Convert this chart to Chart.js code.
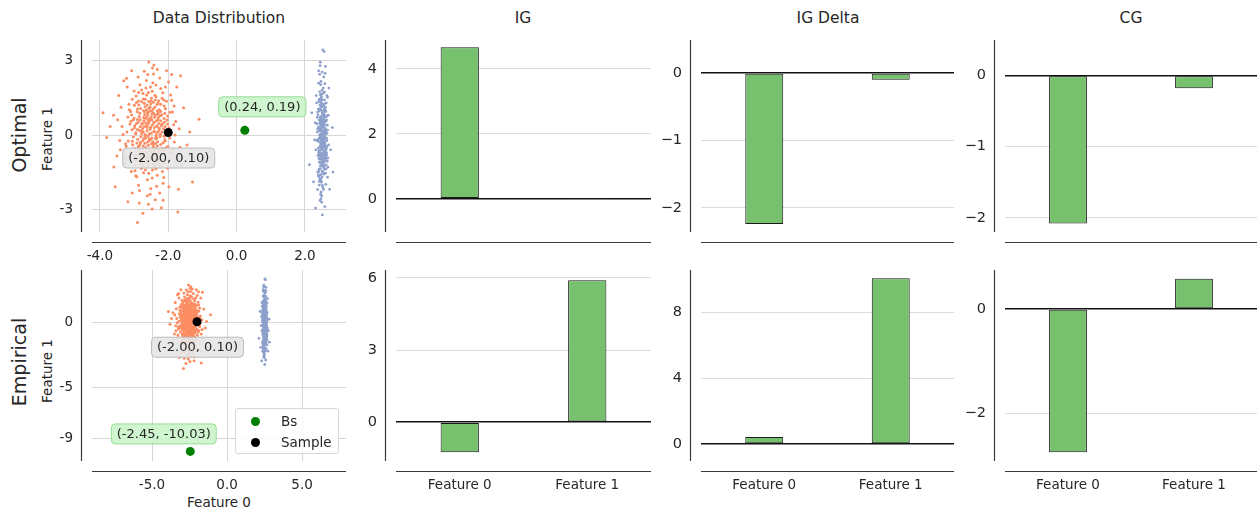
<!DOCTYPE html>
<html><head><meta charset="utf-8">
<script src="https://cdn.jsdelivr.net/npm/chart.js@4.4.1/dist/chart.umd.min.js"></script>
<style>
html,body{margin:0;padding:0;background:#fff;}
#wrap{position:relative;width:1257px;height:510px;overflow:hidden;font-family:"DejaVu Sans",sans-serif;color:#262626;}
canvas{position:absolute;}
.t{position:absolute;white-space:nowrap;transform:translate(-50%,-50%);}
.r{transform:translate(-50%,-50%) rotate(-90deg);}
#legend{position:absolute;left:235px;top:408px;width:102px;height:44px;border:1px solid #d8d8d8;border-radius:3px;background:rgba(255,255,255,0.85);font-size:13.5px;}
#legend .e{position:absolute;left:0;height:20px;line-height:20px;}
#legend .d{position:absolute;left:15px;top:6px;width:9px;height:9px;border-radius:50%;}
#legend .l{position:absolute;left:45px;top:0;}
</style></head>
<body><div id="wrap">
<div class="t" style="left:219px;top:18px;font-size:15.5px;">Data Distribution</div>
<div class="t" style="left:523px;top:18px;font-size:15.5px;">IG</div>
<div class="t" style="left:828px;top:18px;font-size:15.5px;">IG Delta</div>
<div class="t" style="left:1131px;top:18px;font-size:15.5px;">CG</div>
<div class="t r" style="left:19px;top:135px;font-size:19px;">Optimal</div>
<div class="t r" style="left:19px;top:362px;font-size:19px;">Empirical</div>
<div class="t r" style="left:47px;top:139px;font-size:13.5px;">Feature 1</div>
<div class="t r" style="left:47px;top:371px;font-size:13.5px;">Feature 1</div>
<div class="t" style="left:219px;top:502px;font-size:13.5px;">Feature 0</div>
<div id="legend">
 <div class="e" style="top:2px;width:100px;"><span class="d" style="background:#008000"></span><span class="l">Bs</span></div>
 <div class="e" style="top:23px;width:100px;"><span class="d" style="background:#000"></span><span class="l">Sample</span></div>
</div>
</div>
<script>
// ---------------- DATA ----------------
const categories = ['Feature 0', 'Feature 1'];
const igOptimal = [4.67, 0.01];
const igDeltaOptimal = [-2.24, -0.10];
const cgOptimal = [-2.08, -0.18];
const igEmpirical = [-1.25, 5.90];
const igDeltaEmpirical = [0.43, 10.10];
const cgEmpirical = [-2.75, 0.58];

const samplePoint = [-2.00, 0.10];
const bsOptimal = [0.24, 0.19];
const bsEmpirical = [-2.45, -10.03];

const scatterTopXTicks = [-4, -2, 0, 2];
const scatterTopYTicks = [-3, 0, 3];
const scatterBotXTicks = [-5, 0, 5];
const scatterBotYTicks = [-9, -5, 0];
const igOptTicks = [0, 2, 4];
const igDeltaOptTicks = [-2, -1, 0];
const cgOptTicks = [-2, -1, 0];
const igEmpTicks = [0, 3, 6];
const igDeltaEmpTicks = [0, 4, 8];
const cgEmpTicks = [-2, 0];

const classA = [ // orange cluster
[-2.52,0.31],[-2.31,0.84],[-2.74,-0.22],[-2.12,1.18],[-2.93,0.47],[-2.41,-0.91],[-2.63,1.62],[-2.22,-0.38],[-3.02,-0.08],[-2.03,0.61],
[-2.81,1.07],[-2.46,-1.42],[-2.36,2.03],[-2.67,0.02],[-1.92,-0.71],[-3.18,0.73],[-2.56,-0.63],[-2.27,0.19],[-2.77,-1.04],[-2.16,1.71],
[-2.58,0.92],[-2.88,-0.48],[-2.33,-0.12],[-2.71,0.58],[-2.44,1.33],[-2.09,-0.24],[-2.99,1.21],[-2.61,-1.81],[-2.19,0.44],[-2.49,0.07],
[-2.84,0.18],[-2.38,-0.55],[-2.64,2.21],[-2.26,1.02],[-3.11,-0.71],[-2.54,0.66],[-1.98,0.28],[-2.79,-1.36],[-2.42,0.49],[-2.68,-0.33],
[-2.13,-1.12],[-2.91,0.94],[-2.47,1.77],[-2.59,-0.04],[-2.34,0.37],[-3.06,0.21],[-2.21,-0.82],[-2.73,1.46],[-2.51,-2.17],[-2.29,0.71],
[-2.86,-0.61],[-2.39,1.12],[-2.62,0.39],[-1.88,0.93],[-2.97,-1.22],[-2.45,-0.27],[-2.18,1.49],[-2.69,0.83],[-2.55,-1.05],[-2.24,-0.06],
[-3.21,0.12],[-2.43,2.47],[-2.76,-0.86],[-2.07,0.14],[-2.57,1.08],[-2.32,-1.63],[-2.82,0.33],[-2.48,0.96],[-2.66,-0.51],[-2.11,0.53],
[-2.94,1.58],[-2.37,-0.34],[-2.61,-2.46],[-2.28,1.39],[-3.04,-0.39],[-2.53,0.23],[-2.01,-0.47],[-2.72,0.71],[-2.44,-0.79],[-2.65,1.91],
[-2.19,0.82],[-2.89,-0.17],[-2.51,1.26],[-2.35,0.58],[-3.27,-0.93],[-2.60,-1.28],[-2.14,-0.63],[-2.78,0.06],[-2.47,0.41],[-2.30,-0.98],
[-2.83,2.04],[-2.56,-0.15],[-2.25,2.31],[-2.70,1.29],[-1.95,-0.12],[-3.09,0.56],[-2.40,0.13],[-2.63,-0.72],[-2.20,0.38],[-2.92,-1.69],
[-2.50,0.74],[-2.34,-2.08],[-2.75,0.26],[-2.08,1.06],[-2.58,-0.41],[-2.87,1.38],[-2.43,-1.19],[-2.23,0.03],[-3.14,1.02],[-2.66,0.49],
[-2.39,1.61],[-2.81,-0.29],[-2.15,-0.31],[-2.54,-0.88],[-2.98,0.38],[-2.29,0.89],[-2.62,0.17],[-1.84,0.42],[-2.72,-1.53],[-2.46,2.72],
[-3.35,0.35],[-2.52,-0.18],[-2.27,-0.74],[-2.68,1.15],[-2.41,0.29],[-2.90,-0.82],[-2.05,1.37],[-2.59,0.61],[-2.36,-1.37],[-2.77,0.44],
[-2.17,-1.48],[-2.95,0.09],[-2.49,1.49],[-2.64,-1.12],[-2.32,0.97],[-3.00,1.78],[-2.55,0.05],[-2.12,0.67],[-2.80,-0.07],[-2.44,-0.46],
[-2.70,2.58],[-2.26,0.27],[-2.58,-2.81],[-2.38,0.81],[-3.17,-0.24],[-1.97,-0.95],[-2.83,0.88],[-2.50,-0.69],[-2.22,1.88],[-2.62,0.30],
[-2.96,-1.01],[-2.42,0.52],[-2.10,-0.19],[-2.74,1.68],[-2.47,-1.74],[-2.31,0.11],[-3.07,0.81],[-2.57,1.36],[-2.18,-0.54],[-2.85,-0.44],
[-2.53,0.98],[-2.36,-0.08],[-2.67,-1.41],[-2.02,0.77],[-2.90,0.63],[-2.45,2.12],[-2.24,-1.27],[-2.78,-0.58],[-2.60,0.81],[-3.23,-0.46],
[-2.33,1.24],[-2.71,-0.14],[-2.14,0.25],[-2.49,-0.35],[-2.87,-2.04],[-2.56,0.54],[-1.90,1.41],[-2.64,1.01],[-2.40,-0.99],[-2.99,0.28],
[-2.73,0.12],[-2.48,0.62],[-2.35,0.01],[-2.61,0.91],[-2.82,-0.36],[-2.28,0.47],[-2.55,-0.22],[-2.67,0.68],[-2.43,0.88],[-2.31,-0.27],
[-3.12,0.45],[-1.95,0.92],[-3.25,-0.35],[-1.82,-0.28],[-3.05,1.45],[-2.02,-1.35],[-3.32,0.02],[-1.78,0.55],[-2.95,-1.65],[-2.08,1.95],
[-3.15,1.25],[-1.87,-0.58],[-3.42,-0.22],[-2.05,0.08],[-2.88,2.35],[-1.93,1.62],[-3.28,-1.15],[-2.15,-1.95],[-3.00,0.68],[-1.72,-0.85],
[-2.78,1.82],[-2.25,-2.35],[-3.20,1.95],[-2.38,-2.62],[-2.60,2.45],[-1.99,2.15],[-2.84,-2.25],[-3.38,1.12],[-1.83,1.18],[-2.53,-2.40],
[-3.08,-1.48],[-2.13,-1.72],[-2.44,1.05],[-2.70,0.95],[-2.36,1.55],[-2.58,1.72],[-2.90,0.22],[-2.22,0.58],[-2.66,-0.12],[-2.46,-0.56],
[-2.76,0.48],[-2.30,1.29],[-2.52,1.95],[-2.64,-0.92],[-2.40,0.72],[-2.86,1.22],[-2.20,-0.66],[-2.98,-0.55],[-2.09,0.35],[-2.74,-1.25],
[-2.95,0.05],[-2.85,0.75],[-2.72,-0.68],[-2.62,1.22],[-2.52,-0.95],[-2.42,0.15],[-2.32,-0.45],[-2.22,0.95],[-2.12,-0.05],[-2.02,0.45],
[-3.05,-0.25],[-2.90,1.05],[-2.80,-1.15],[-2.70,0.35],[-2.60,-0.28],[-2.50,1.38],[-2.40,-1.30],[-2.30,0.62],[-2.20,-1.05],[-2.10,0.88],
[-3.10,0.95],[-2.98,-0.85],[-2.88,0.52],[-2.78,1.35],[-2.68,-0.02],[-2.58,0.48],[-2.48,-0.12],[-2.38,1.42],[-2.28,-0.62],[-2.18,0.12],
[-2.92,-0.32],[-2.82,0.62],[-2.72,0.98],[-2.62,-1.02],[-2.52,0.62],[-2.42,-0.65],[-2.32,0.35],[-2.22,1.25],[-2.12,-0.78],[-2.00,0.02],
[-3.02,0.62],[-2.93,1.32],[-2.83,-0.95],[-2.73,-0.45],[-2.63,0.72],[-2.53,1.12],[-2.43,-0.35],[-2.33,-0.88],[-2.23,0.78],[-2.13,1.42],
[-2.97,-1.45],[-2.87,1.72],[-2.77,0.15],[-2.67,1.45],[-2.57,-1.55],[-2.47,0.85],[-2.37,-0.15],[-2.27,-1.18],[-2.17,0.45],[-2.07,-0.52],
[-3.48,0.62],[-1.68,0.25],[-3.50,-0.85],[-1.66,-0.50],[-2.32,2.65],[-2.85,-2.75],[-1.98,-2.10],[-3.22,2.30],[-1.90,2.45],[-2.47,-3.00],
[-3.91,0.90],[-3.80,-0.10],[-3.59,-1.30],[-3.70,0.35],[-2.57,2.96],[-2.42,2.84],[-3.07,2.60],[-1.64,2.40],[-2.90,-3.55],[-2.74,-3.17],
[-3.18,-2.70],[-1.72,-3.12],[-2.15,-2.64],[-1.10,0.64],[-1.37,0.12],[-1.29,-1.90],[-1.55,1.10],[-1.45,-0.40],[-3.45,1.60],[-3.55,-2.10],
[-1.70,-2.20],[-1.75,1.95],[-3.30,2.20],[-1.60,-1.20],[-3.40,-0.60],[-2.20,-2.95],[-3.05,-2.35],[-1.80,0.00],[-3.60,0.80],[-2.05,2.60]
];
const classB = [ // blue cluster
[2.52,0.31],[2.44,-0.84],[2.58,0.22],[2.47,1.18],[2.61,-0.47],[2.50,0.91],[2.39,-1.62],[2.55,0.38],[2.46,-0.08],[2.63,0.61],
[2.49,-1.07],[2.57,1.42],[2.42,-2.03],[2.53,0.02],[2.36,0.71],[2.60,-0.73],[2.48,0.63],[2.54,-0.19],[2.45,1.04],[2.66,-1.71],
[2.51,-0.92],[2.43,0.48],[2.59,0.12],[2.47,-0.58],[2.55,-1.33],[2.40,0.24],[2.62,-1.21],[2.50,1.81],[2.44,-0.44],[2.56,-0.07],
[2.48,-0.18],[2.61,0.55],[2.37,-2.21],[2.53,-1.02],[2.45,0.71],[2.58,-0.66],[2.50,-0.28],[2.41,1.36],[2.64,-0.49],[2.52,0.33],
[2.46,1.12],[2.55,-0.94],[2.43,-1.77],[2.60,0.04],[2.49,-0.37],[2.35,-0.21],[2.57,0.82],[2.51,-1.46],[2.47,2.17],[2.63,-0.71],
[2.42,0.61],[2.54,-1.12],[2.48,-0.39],[2.67,-0.93],[2.44,1.22],[2.59,0.27],[2.50,-1.49],[2.38,-0.83],[2.56,1.05],[2.46,0.06],
[2.61,-0.12],[2.49,-2.47],[2.53,0.86],[2.41,-0.14],[2.57,-1.08],[2.45,1.63],[2.52,-0.33],[2.60,-0.96],[2.47,0.51],[2.39,-0.53],
[2.55,-1.58],[2.50,0.34],[2.43,2.46],[2.58,-1.39],[2.46,0.39],[2.64,-0.23],[2.51,0.47],[2.40,-0.71],[2.54,0.79],[2.48,-1.91],
[2.57,-0.82],[2.44,0.17],[2.52,-1.26],[2.62,-0.58],[2.37,0.93],[2.49,1.28],[2.55,0.63],[2.46,-0.06],[2.59,-0.41],[2.42,0.98],
[2.51,-2.04],[2.60,0.15],[2.47,-2.31],[2.54,-1.29],[2.36,0.12],[2.48,-0.56],[2.63,-0.13],[2.45,0.72],[2.56,-0.38],[2.53,1.69],
[2.43,-0.74],[2.58,2.08],[2.49,-0.26],[2.65,-1.06],[2.50,0.41],[2.41,-1.38],[2.55,1.19],[2.47,-0.03],[2.61,-1.02],[2.52,-0.49],
[2.46,-1.61],[2.57,0.29],[2.39,0.31],[2.53,0.88],[2.48,-0.38],[2.60,-0.89],[2.44,-0.17],[2.51,-0.42],[2.66,1.53],[2.49,-2.72],
[2.55,-0.35],[2.42,0.18],[2.59,0.74],[2.47,-1.15],[2.53,-0.29],[2.38,0.82],[2.62,-1.37],[2.50,-0.61],[2.45,1.37],[2.57,-0.44],
[2.48,1.48],[2.54,-0.09],[2.40,-1.49],[2.60,1.12],[2.51,-0.97],[2.46,-1.78],[2.56,-0.05],[2.43,-0.67],[2.64,0.07],[2.50,0.46],
[2.47,-2.58],[2.58,-0.27],[2.44,2.81],[2.52,-0.81],[2.37,0.24],[2.61,0.95],[2.49,-0.88],[2.55,0.69],[2.42,-1.88],[2.53,-0.30],
[2.59,1.01],[2.46,-0.52],[2.51,0.19],[2.40,-1.68],[2.57,1.74],[2.48,-0.11],[2.63,-0.81],[2.45,-1.36],[2.54,0.54],[2.50,0.44],
[2.44,-0.98],[2.56,0.08],[2.49,1.41],[2.62,-0.77],[2.41,-0.63],[2.52,-2.12],[2.47,1.27],[2.58,0.58],[2.43,-0.81],[2.55,0.46],
[2.50,-1.24],[2.60,0.14],[2.38,-0.25],[2.53,0.35],[2.46,2.04],[2.57,-0.54],[2.42,-1.41],[2.51,-1.01],[2.65,0.40],[2.48,-0.28],
[2.52,0.12],[2.45,0.55],[2.58,-0.35],[2.41,-0.95],[2.62,1.30],[2.47,-1.85],[2.55,2.35],[2.43,1.75],[2.60,-1.55],[2.50,-0.75],
[2.35,0.45],[2.66,0.20],[2.48,1.55],[2.54,-2.20],[2.39,1.05],[2.57,-1.25],[2.44,-0.30],[2.63,0.75],[2.50,2.55],[2.46,-2.40],
[2.32,-0.60],[2.69,-0.40],[2.53,1.90],[2.42,-1.10],[2.58,1.00],[2.47,0.25],[2.56,-0.65],[2.40,2.10],[2.61,-2.00],[2.51,1.15],
[2.37,-1.50],[2.64,1.60],[2.49,-0.15],[2.55,0.95],[2.44,-2.65],[2.59,2.50],[2.34,1.30],[2.67,-1.30],[2.50,-1.70],[2.52,0.65],
[2.50,0.05],[2.46,-0.45],[2.55,0.52],[2.48,1.00],[2.52,-1.18],[2.44,0.35],[2.58,-0.15],[2.49,0.78],[2.53,-0.72],[2.45,-1.25],
[2.56,1.25],[2.47,-0.95],[2.51,0.60],[2.43,0.00],[2.59,-0.50],[2.48,1.65],[2.54,-1.55],[2.42,1.45],[2.57,0.42],[2.50,-0.42],
[2.52,3.45],[2.56,3.38],[2.60,2.78],[2.45,2.95],[2.51,-3.24],[2.31,-2.96],[2.13,-1.20],[2.80,0.30],[2.75,-0.60],[2.20,0.90],
[2.58,-2.90],[2.40,2.60],[2.70,1.90],[2.28,-0.20],[2.82,-1.50],[2.33,1.60],[2.72,-2.20],[2.25,-1.90],[2.68,0.80],[2.30,0.50]
];

// ---------------- STYLE ----------------
const FONT = '"DejaVu Sans", sans-serif';
const TXT = '#262626';
const ORANGE = '#fc8d62', BLUE = '#8da0cb', GREENBAR = '#76c06e';
const cols = [{pl:92,pr:346},{pl:396,pr:651},{pl:701,pr:954},{pl:1005,pr:1257}];
const rows = [{pt:40,pb:232},{pt:270,pb:461}];
const LW = 60, TOPPAD = 32, BH = 46;

const spinePlugin = {
  id: 'spines',
  afterDraw(chart) {
    const {ctx, chartArea: a} = chart;
    ctx.save();
    ctx.strokeStyle = '#3a3a3a'; ctx.lineWidth = 1.2;
    ctx.beginPath();
    ctx.moveTo(a.left - 10.5, a.top); ctx.lineTo(a.left - 10.5, a.bottom);
    ctx.moveTo(a.left, a.bottom + 10.5); ctx.lineTo(a.right, a.bottom + 10.5);
    ctx.stroke();
    ctx.restore();
  }
};

function annotPlugin(items) {
  return {
    id: 'annot',
    afterDatasetsDraw(chart) {
      const {ctx} = chart;
      const xs = chart.scales.x, ys = chart.scales.y;
      ctx.save();
      ctx.font = '13px ' + FONT;
      items.forEach(it => {
        const px = xs.getPixelForValue(it.pt[0]) + it.dx;
        const py = ys.getPixelForValue(it.pt[1]) + it.dy;
        const w = ctx.measureText(it.text).width + 11, h = 20;
        const x0 = px - w / 2, y0 = py - h / 2;
        ctx.beginPath();
        ctx.roundRect(x0 + 0.5, y0 + 0.5, w, h, 4);
        ctx.fillStyle = it.fill; ctx.fill();
        ctx.strokeStyle = it.stroke; ctx.lineWidth = 1; ctx.stroke();
        ctx.fillStyle = TXT; ctx.textAlign = 'center'; ctx.textBaseline = 'middle';
        ctx.fillText(it.text, px + 0.5, py + 1);
      });
      ctx.restore();
    }
  };
}

function fmtPt(p) { return '(' + p[0].toFixed(2) + ', ' + p[1].toFixed(2) + ')'; }

function makeCanvas(ci, ri) {
  const c = cols[ci], r = rows[ri];
  const rp = ci === 3 ? 0 : 6;
  const cv = document.createElement('canvas');
  const w = c.pr - c.pl + LW + rp, h = r.pb - r.pt + TOPPAD + BH;
  cv.width = w; cv.height = h;
  cv.style.left = (c.pl - LW) + 'px'; cv.style.top = (r.pt - TOPPAD) + 'px';
  cv.style.width = w + 'px'; cv.style.height = h + 'px';
  document.getElementById('wrap').insertBefore(cv, document.getElementById('legend'));
  return {cv, rp};
}

function scatterChart(ci, ri, xr, yr, xt, yt, bs) {
  const {cv, rp} = makeCanvas(ci, ri);
  const pts = a => a.map(p => ({x: p[0], y: p[1]}));
  return new Chart(cv, {
    type: 'scatter',
    data: { datasets: [
      {label: 'Sample', data: pts([samplePoint]), backgroundColor: '#000', pointRadius: 4.5, borderWidth: 0},
      {label: 'Bs', data: pts([bs]), backgroundColor: '#008000', pointRadius: 4.5, borderWidth: 0},
      {label: 'A', data: pts(classA), backgroundColor: ORANGE, pointRadius: 1.5, borderWidth: 0},
      {label: 'B', data: pts(classB), backgroundColor: BLUE, pointRadius: 1.4, borderWidth: 0}
    ]},
    options: {
      responsive: false, animation: false, devicePixelRatio: 1,
      layout: {padding: {top: TOPPAD, right: rp, left: 0, bottom: 0}},
      plugins: {legend: {display: false}, tooltip: {enabled: false}},
      scales: {
        x: { type: 'linear', min: xr[0], max: xr[1],
          afterBuildTicks: s => { s.ticks = xt.map(v => ({value: v})); },
          afterFit: s => { s.height = BH; },
          grid: {color: '#d6d6d6', lineWidth: 1, drawTicks: false},
          border: {display: false},
          ticks: {padding: 16, color: TXT, font: {family: FONT, size: 13.5}, callback: v => v.toFixed(1), maxRotation: 0}
        },
        y: { type: 'linear', min: yr[0], max: yr[1],
          afterBuildTicks: s => { s.ticks = yt.map(v => ({value: v})); },
          afterFit: s => { s.width = LW; },
          grid: {color: '#d6d6d6', lineWidth: 1, drawTicks: false},
          border: {display: false},
          ticks: {padding: 19, color: TXT, font: {family: FONT, size: 13.5}, callback: v => String(v)}
        }
      }
    },
    plugins: [spinePlugin, annotPlugin([
      {pt: bs, text: fmtPt(bs), dx: ri === 0 ? 17 : -27, dy: ri === 0 ? -24 : -18, fill: 'rgba(200,245,200,0.85)', stroke: '#98dc98'},
      {pt: samplePoint, text: fmtPt(samplePoint), dx: 0, dy: 25, fill: 'rgba(230,230,230,0.9)', stroke: '#bdbdbd'}
    ])]
  });
}

function barChart(ci, ri, vals, yr, yt) {
  const {cv, rp} = makeCanvas(ci, ri);
  return new Chart(cv, {
    type: 'bar',
    data: { labels: categories, datasets: [{data: vals, backgroundColor: GREENBAR, borderColor: '#1a1a1a', borderWidth: 1, borderSkipped: false, barPercentage: 0.3, categoryPercentage: 1.0}]},
    options: {
      responsive: false, animation: false, devicePixelRatio: 1,
      layout: {padding: {top: TOPPAD, right: rp, left: 0, bottom: 0}},
      plugins: {legend: {display: false}, tooltip: {enabled: false}},
      scales: {
        x: { type: 'category', offset: true,
          afterFit: s => { s.height = BH; },
          grid: {display: false, drawTicks: false},
          border: {display: false},
          ticks: {display: ri === 1, padding: 16, color: TXT, font: {family: FONT, size: 13.5}, maxRotation: 0}
        },
        y: { type: 'linear', min: yr[0], max: yr[1],
          afterBuildTicks: s => { s.ticks = yt.map(v => ({value: v})); },
          afterFit: s => { s.width = LW; },
          grid: {drawTicks: false, color: c => c.tick && c.tick.value === 0 ? '#111' : '#dcdcdc', lineWidth: c => c.tick && c.tick.value === 0 ? 1.6 : 1},
          border: {display: false},
          ticks: {padding: 19, color: TXT, font: {family: FONT, size: 14.5}, callback: v => String(v).replace('-', '\u2212')}
        }
      }
    },
    plugins: [spinePlugin]
  });
}

scatterChart(0, 0, [-4.23, 3.2], [-3.93, 3.85], scatterTopXTicks, scatterTopYTicks, bsOptimal);
scatterChart(0, 1, [-9.0, 7.93], [-10.78, 4.14], scatterBotXTicks, scatterBotYTicks, bsEmpirical);
barChart(1, 0, igOptimal, [-1.02, 4.89], igOptTicks);
barChart(2, 0, igDeltaOptimal, [-2.36, 0.49], igDeltaOptTicks);
barChart(3, 0, cgOptimal, [-2.2, 0.5], cgOptTicks);
barChart(1, 1, igEmpirical, [-1.61, 6.33], igEmpTicks);
barChart(2, 1, igDeltaEmpirical, [-1.04, 10.6], igDeltaEmpTicks);
barChart(3, 1, cgEmpirical, [-2.92, 0.75], cgEmpTicks);
</script>
</body></html>
